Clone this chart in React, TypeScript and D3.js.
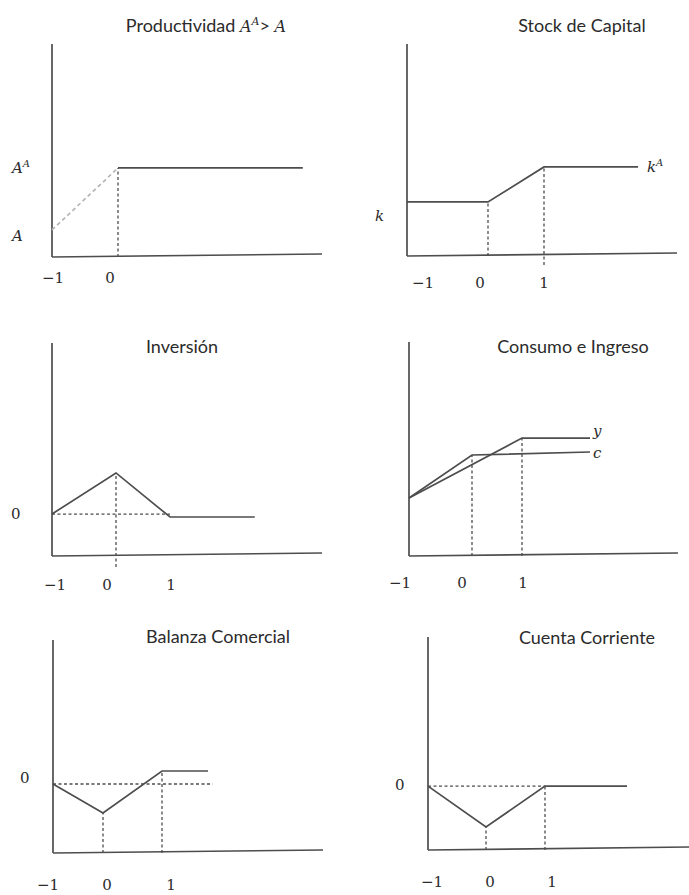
import React from 'react';
import * as d3 from 'd3';

const W = 689;
const H = 895;

// ---- values (periods on x, level on a 0..10 y scale) ----
const tickPeriods = [-1, 0, 1];

// Productividad
const prodJumpPeriods = [-1, 0];
const prodJumpValues = [1.27, 4.18];
const prodPeriods = [0, 2.8];
const prodValues = [4.18, 4.18];

// Stock de Capital
const capPeriods = [-1, 0, 1, 2.68];
const capValues = [2.55, 2.55, 4.2, 4.2];

// Inversión
const invPeriods = [-1, 0, 1, 2.57];
const invValues = [1.97, 3.9, 1.83, 1.83];

// Consumo e Ingreso
const incPeriods = [-1, 1, 2.36];
const incValues = [2.71, 5.51, 5.51];
const conPeriods = [-1, 0, 2.36];
const conValues = [2.71, 4.72, 4.86];

// Balanza Comercial
const tbPeriods = [-1, 0, 1, 1.78];
const tbValues = [3.24, 1.88, 3.85, 3.85];

// Cuenta Corriente
const caPeriods = [-1, 0, 1, 2.39];
const caValues = [3.0, 1.08, 3.0, 3.0];

type Series = { t: number[]; v: number[]; kind?: 'solid' | 'dash' | 'faint' };
type Label = { text: string; sup?: string; v: number; x: number; italic: boolean };

interface Panel {
  title: React.ReactNode;
  titleX: number;
  titleY: number;
  axisX: number;
  axisTop: number;
  axisBottom: number;
  axisRight: number;
  tilt: number;
  anchors: number[];
  ticks: number[];
  tickShift: number[];
  tickY: number;
  series: Series[];
  labels: Label[];
  endLabels?: { text: string; sup?: string; x: number; y: number }[];
}

const INK = '#4d4d4d';
const TEXT = '#2b2b2b';
const SERIF = '"DejaVu Serif", "Liberation Serif", serif';
const SANS = 'Lato, "Open Sans", sans-serif';

const panels: Panel[] = [
  {
    title: (
      <>
        Productividad{' '}
        <tspan fontFamily={SERIF} fontStyle="italic" fontSize={16}>A</tspan>
        <tspan fontFamily={SERIF} fontStyle="italic" fontSize={11} dy={-7}>A</tspan>
        <tspan dy={7}>&gt; </tspan>
        <tspan fontFamily={SERIF} fontStyle="italic" fontSize={16}>A</tspan>
      </>
    ),
    titleX: 206, titleY: 32,
    axisX: 52, axisTop: 44, axisBottom: 257, axisRight: 322, tilt: 3,
    anchors: [52, 118, 184],
    ticks: [-1, 0],
    tickShift: [1, -8],
    tickY: 283,
    series: [
      { t: prodJumpPeriods, v: prodJumpValues, kind: 'faint' },
      { t: prodPeriods, v: prodValues },
      { t: [0, 0], v: [0, prodValues[0]], kind: 'dash' },
    ],
    labels: [
      { text: 'A', sup: 'A', v: prodValues[0], x: 12, italic: true },
      { text: 'A', v: 1.0, x: 12, italic: true },
    ],
  },
  {
    title: 'Stock de Capital',
    titleX: 582, titleY: 32,
    axisX: 407, axisTop: 44, axisBottom: 256, axisRight: 677, tilt: 3,
    anchors: [407, 488, 544],
    ticks: [-1, 0, 1],
    tickShift: [16, -8, 0],
    tickY: 288,
    series: [
      { t: capPeriods, v: capValues },
      { t: [0, 0], v: [0, capValues[1]], kind: 'dash' },
      { t: [1, 1], v: [-0.42, capValues[2]], kind: 'dash' },
    ],
    labels: [{ text: 'k', v: 1.9, x: 375, italic: true }],
    endLabels: [{ text: 'k', sup: 'A', x: 647, y: 172 }],
  },
  {
    title: 'Inversión',
    titleX: 182, titleY: 353,
    axisX: 52, axisTop: 343, axisBottom: 556, axisRight: 322, tilt: 3,
    anchors: [52, 116, 170],
    ticks: [-1, 0, 1],
    tickShift: [3, -9, 1],
    tickY: 590,
    series: [
      { t: invPeriods, v: invValues },
      { t: [-1, 1], v: [invValues[0], invValues[0]], kind: 'dash' },
      { t: [0, 0], v: [-0.52, invValues[1]], kind: 'dash' },
    ],
    labels: [{ text: '0', v: invValues[0], x: 11, italic: false }],
  },
  {
    title: 'Consumo e Ingreso',
    titleX: 573, titleY: 353,
    axisX: 409, axisTop: 342, axisBottom: 556, axisRight: 678, tilt: 3,
    anchors: [409, 472, 522],
    ticks: [-1, 0, 1],
    tickShift: [-9, -10, 1],
    tickY: 588,
    series: [
      { t: incPeriods, v: incValues },
      { t: conPeriods, v: conValues },
      { t: [0, 0], v: [0, conValues[1]], kind: 'dash' },
      { t: [1, 1], v: [0, incValues[1]], kind: 'dash' },
    ],
    labels: [],
    endLabels: [
      { text: 'y', x: 593, y: 436 },
      { text: 'c', x: 593, y: 458 },
    ],
  },
  {
    title: 'Balanza Comercial',
    titleX: 218, titleY: 643,
    axisX: 53, axisTop: 640, axisBottom: 853, axisRight: 323, tilt: 3,
    anchors: [53, 103, 162],
    ticks: [-1, 0, 1],
    tickShift: [-5, 4, 9],
    tickY: 890,
    series: [
      { t: tbPeriods, v: tbValues },
      { t: [-1, 1.86], v: [tbValues[0], tbValues[0]], kind: 'dash' },
      { t: [0, 0], v: [0, tbValues[1]], kind: 'dash' },
      { t: [1, 1], v: [0, tbValues[2]], kind: 'dash' },
    ],
    labels: [{ text: '0', v: 3.5, x: 20, italic: false }],
  },
  {
    title: 'Cuenta Corriente',
    titleX: 587, titleY: 644,
    axisX: 428, axisTop: 637, axisBottom: 850, axisRight: 689, tilt: 3,
    anchors: [428, 486, 545],
    ticks: [-1, 0, 1],
    tickShift: [4, 4, 7],
    tickY: 887,
    series: [
      { t: caPeriods, v: caValues },
      { t: [-1, 1], v: [caValues[0], caValues[0]], kind: 'dash' },
      { t: [0, 0], v: [0, caValues[1]], kind: 'dash' },
      { t: [1, 1], v: [0, caValues[2]], kind: 'dash' },
    ],
    labels: [{ text: '0', v: 3.05, x: 395, italic: false }],
  },
];

const PanelChart = ({ p }: { p: Panel }) => {
  // piecewise scale: the hand-drawn periods are not evenly spaced
  const x = d3.scaleLinear().domain(tickPeriods).range(p.anchors);
  const y = d3.scaleLinear().domain([0, 10]).range([p.axisBottom, p.axisTop]);
  const line = d3.line<[number, number]>().x(d => x(d[0])).y(d => y(d[1]));

  return (
    <g>
      <text x={p.titleX} y={p.titleY} textAnchor="middle" fontFamily={SANS}
        fontSize={18} fill={TEXT}>{p.title}</text>

      {/* axes */}
      <line x1={p.axisX} x2={p.axisX} y1={p.axisTop} y2={p.axisBottom}
        stroke={INK} strokeWidth={1.7} />
      <line x1={p.axisX} x2={p.axisRight} y1={p.axisBottom} y2={p.axisBottom - p.tilt}
        stroke={INK} strokeWidth={1.7} />

      {p.series.map((s, i) => (
        <path key={i}
          d={line(s.t.map((t, j) => [t, s.v[j]] as [number, number])) || ''}
          fill="none"
          stroke={s.kind === 'faint' ? '#b5b5b5' : INK}
          strokeWidth={s.kind === 'dash' ? 1.3 : 1.7}
          strokeDasharray={s.kind === 'dash' ? '3,2.5' : s.kind === 'faint' ? '4,3' : undefined} />
      ))}

      {p.ticks.map((t, i) => (
        <text key={t} x={x(t) + p.tickShift[i]} y={p.tickY} textAnchor="middle"
          fontFamily={SERIF} fontSize={15} fill={TEXT}>
          {t < 0 ? `\u2212${Math.abs(t)}` : t}
        </text>
      ))}

      {p.labels.map((l, i) => (
        <text key={i} x={l.x} y={y(l.v) + 5} fontFamily={SERIF} fontSize={15}
          fontStyle={l.italic ? 'italic' : 'normal'} fill={TEXT}>
          {l.text}
          {l.sup && <tspan fontSize={10} dy={-6}>{l.sup}</tspan>}
        </text>
      ))}

      {(p.endLabels || []).map((l, i) => (
        <text key={i} x={l.x} y={l.y} fontFamily={SERIF} fontSize={15}
          fontStyle="italic" fill={TEXT}>
          {l.text}
          {l.sup && <tspan fontSize={10} dy={-6}>{l.sup}</tspan>}
        </text>
      ))}
    </g>
  );
};

export default function App() {
  return (
    <svg width={W} height={H} style={{ position: 'absolute', left: 0, top: 0, background: '#fff' }}>
      <rect width={W} height={H} fill="#fff" />
      {panels.map((p, i) => <PanelChart key={i} p={p} />)}
    </svg>
  );
}
